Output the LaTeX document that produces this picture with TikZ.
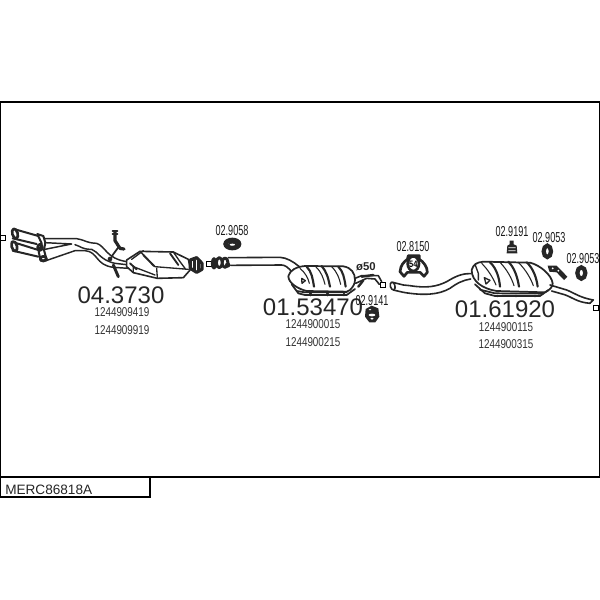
\documentclass[tikz,border=0pt]{standalone}
\usepackage{fontspec}
\setmainfont{Liberation Sans}
\tikzset{
 big/.style={font=\fontsize{18}{20}\selectfont,text=black!85,inner sep=0pt},
 part/.style={font=\fontsize{9.6}{11}\selectfont,text=black!80,xscale=.77,inner sep=0pt},
 small/.style={font=\fontsize{10.8}{12}\selectfont,text=black!90,xscale=.63,inner sep=0pt},
 ln/.style={line width=1pt,black!85,line join=round,line cap=round},
 th/.style={line width=1.5pt,black!85,line join=round,line cap=round},
 sq/.style={draw=black,line width=.7pt,fill=white,minimum size=3.6pt,inner sep=0pt},
}
\begin{document}
\begin{tikzpicture}[x=.75pt,y=-.75pt]
\useasboundingbox (0,0) rectangle (600,600);
\fill[white] (0,0) rectangle (600,600);
\draw[line width=.9pt] (0,102) -- (599.5,102) -- (599.5,477) -- (0,477) -- cycle;
\draw[line width=.9pt] (0.4,102) -- (0.4,497);
\draw[line width=.9pt] (0,477.5) rectangle (150,497);
\node[font=\fontsize{10.2}{12}\selectfont,anchor=west,inner sep=0pt,text=black!85] (code) at (5,490) {MERC86818A};
% small squares
\node[sq] (s1) at (3,238) {};
\node[sq] (s2) at (209,264) {};
\node[sq] (s3) at (383,285) {};
\node[sq] (s4) at (596,308) {};
% ---- region 1
\begin{scope}[shift={(0,210)},scale=1/3]
 \draw[th] (45,58) -- (115,78) (35,95) -- (115,120);
 \draw[th] (38,85) -- (110,102) (38,122) -- (115,140);
 \draw[th,line width=2pt,fill=white,rotate around={15:(45,71)}] (45,71) ellipse (8 and 15);
 \draw[th,line width=2pt,fill=white,rotate around={15:(43,109)}] (43,109) ellipse (8 and 15);
 \draw[th,fill=white] (112,72) -- (130,78) -- (136,98) -- (132,120) -- (140,150) -- (122,152) -- (116,125) -- (125,100) -- (118,85) -- cycle;
 \draw[ln,line width=2pt] (120,112) ellipse (7 and 9) (130,146) ellipse (9 and 7);
 \draw[ln,line width=1.1pt] (135,86) -- (230,86) .. controls (262,92) and (255,98) .. (290,100) .. controls (318,110) and (318,145) .. (380,155);
 \draw[ln,line width=1.1pt] (135,98) -- (215,102) -- (135,118);
 \draw[ln,line width=1.1pt] (138,152) -- (225,122) -- (255,122) .. controls (295,125) and (285,165) .. (340,172) -- (385,175);
 \draw[ln,line width=1.1pt] (225,104) .. controls (245,110) and (245,118) .. (275,118) .. controls (295,125) and (300,150) .. (345,160) -- (380,164);
 % bracket
 \draw[th,line width=2.4pt] (345,65) -- (345,92) -- (360,115) -- (372,117);
 \draw[ln,line width=1.4pt] (338,62) -- (352,62) (338,72) -- (352,72);
 \draw[ln,line width=1.3pt] (355,112) -- (338,135) -- (330,150);
 \fill[black!85] (330,147) circle (7);
 \draw[th,line width=2.2pt] (340,165) -- (355,200);
 % catalyst
 \draw[ln,fill=white,line width=1.2pt] (380,150) -- (420,124) -- (520,126) -- (565,148) -- (572,178) -- (550,203) -- (472,205) -- (400,188) -- (380,170) -- cycle;
 \draw[ln] (395,148) -- (430,122) (420,124) -- (465,170) -- (565,178) (520,126) -- (540,155) -- (555,175) (470,175) -- (472,203) (400,188) -- (400,170) -- (465,195);
 \draw[ln,line width=1.4pt] (430,135) -- (462,168) (510,130) -- (535,165) (390,160) -- (410,178);
 % clamp
 \draw[th,line width=2.4pt,fill=white] (571,150) -- (590,143) -- (606,160) -- (606,178) -- (590,187) -- (571,175) -- cycle;
 \draw[th,line width=2.2pt] (583,150) -- (583,182) (595,152) -- (595,184);
\end{scope}
% ---- region 2
\begin{scope}[shift={(190,215)},scale=1/3]
 \draw[line width=3.5pt,black!85,fill=white] (127,87) ellipse (20 and 12);
 \fill[black!85] (110,92) -- (145,92) -- (135,80) -- (120,80) -- cycle;
 \fill[white] (127,89) ellipse (8 and 3);
 % ring
 \draw[th,line width=2.2pt] (72,145) ellipse (5 and 14) (88,143) ellipse (9 and 15) (105,143) ellipse (9 and 14);
 \fill[black!85] (113,150) circle (8);
 % pipe
 \draw[ln,line width=1.2pt] (115,128) -- (270,127) .. controls (290,128) and (310,140) .. (328,155);
 \draw[ln,line width=1.2pt] (122,151) -- (275,150) .. controls (285,150) and (295,158) .. (305,170);
 % muffler
 \draw[ln,line width=1.3pt,fill=white] (295,183) .. controls (300,165) and (320,155) .. (345,153) -- (460,154) .. controls (485,158) and (495,175) .. (495,195) .. controls (495,205) and (490,215) .. (480,225) -- (470,230) -- (350,228) .. controls (325,222) and (295,205) .. (295,183) -- cycle;
 \draw[ln,line width=1.3pt] (305,208) -- (325,235) -- (345,240) -- (470,240) -- (495,222);
 \draw[ln,line width=1.3pt] (320,228) -- (345,232) -- (470,232);
 \draw[th,line width=2pt] (362,240) -- (362,236) (412,240) -- (412,236) (462,240) -- (462,236);
 \draw[th,line width=1.6pt] (350,155) .. controls (365,170) and (368,190) .. (372,215);
 \draw[th,line width=1.6pt] (395,153) .. controls (410,170) and (415,190) .. (420,215);
 \draw[th,line width=1.6pt] (445,155) .. controls (460,170) and (463,190) .. (467,215);
 \draw[ln,line width=.8pt] (330,160) .. controls (345,172) and (355,190) .. (358,205);
 \draw[ln,line width=.8pt] (378,156) .. controls (395,172) and (400,190) .. (405,208);
 \draw[ln,line width=.8pt] (425,155) .. controls (442,172) and (448,190) .. (452,208);
 \draw[ln] (335,190) -- (346,197) -- (336,205) -- cycle;
 % tail
 \draw[ln,line width=1.2pt] (495,190) -- (515,182) -- (565,182) -- (575,200);
 \draw[ln,line width=1.2pt] (497,205) -- (530,190) -- (555,192) -- (568,208);
 \draw[th,line width=1.8pt] (505,215) -- (520,196) (515,185) -- (550,180);
 % clamp 02.9141
 \fill[black!85] (545,272) -- (565,280) -- (568,305) -- (556,322) -- (538,322) -- (525,305) -- (527,282) -- cycle;
 \fill[white] (546,300) ellipse (10 and 4) (546,311) ellipse (5 and 3) (540,284) ellipse (4 and 2);
\end{scope}
% ---- region 3
\begin{scope}[shift={(380,215)},scale=1/3]
 % pipe
 \draw[ln,line width=1.2pt,fill=white,rotate around={15:(38,213)}] (38,213) ellipse (7 and 12);
 \draw[ln,line width=1.2pt] (38,202) -- (70,210) -- (90,212) .. controls (140,220) and (170,215) .. (200,200) .. controls (225,185) and (245,175) .. (272,176);
 \draw[ln,line width=1.2pt] (40,225) -- (70,232) .. controls (130,242) and (175,240) .. (210,220) .. controls (230,205) and (250,195) .. (272,192);
 % muffler
 \draw[ln,line width=1.3pt,fill=white] (275,165) .. controls (280,148) and (290,142) .. (310,140) -- (450,143) .. controls (480,150) and (515,180) .. (518,205) .. controls (518,215) and (510,225) .. (495,232) -- (350,228) .. controls (310,222) and (275,200) .. (275,165) -- cycle;
 \draw[ln,line width=1.3pt] (285,208) -- (315,235) -- (345,243) -- (480,243) -- (505,225);
 \draw[ln,line width=1.3pt] (300,224) -- (345,235) -- (490,236);
 \fill[black!85] (352,243) circle (4) (408,243) circle (4) (465,243) circle (4);
 \draw[th,line width=1.6pt] (330,142) .. controls (350,160) and (358,190) .. (360,215);
 \draw[th,line width=1.6pt] (385,140) .. controls (405,160) and (413,190) .. (417,215);
 \draw[th,line width=1.6pt] (440,142) .. controls (460,160) and (470,190) .. (473,215);
 \draw[ln,line width=.8pt] (305,145) .. controls (325,165) and (340,190) .. (348,210);
 \draw[ln,line width=.8pt] (360,142) .. controls (382,165) and (395,190) .. (402,212);
 \draw[ln,line width=.8pt] (415,142) .. controls (438,165) and (452,190) .. (460,212);
 \draw[ln] (313,188) -- (330,196) -- (318,207) -- cycle;
 \draw[ln] (285,148) -- (295,175) -- (295,195);
 % bracket
 \fill[black!85] (503,152) -- (530,152) -- (562,185) -- (552,195) -- (530,172) -- (508,170) -- cycle;
 \fill[white] (518,160) circle (3) (535,167) circle (3);
 % tail pipe
 \draw[ln,line width=1.2pt] (510,210) -- (560,225) .. controls (585,235) and (600,248) .. (640,255) -- (630,265);
 \draw[ln,line width=1.2pt] (515,228) -- (550,238) .. controls (575,245) and (590,262) .. (630,265);
 % 02.8150
 \draw[th,line width=2pt,fill=white] (60,170) .. controls (62,150) and (72,140) .. (82,133) -- (85,122) -- (118,122) -- (118,133) .. controls (130,140) and (142,155) .. (142,172) -- (132,184) -- (120,172) -- (82,172) -- (72,184) -- cycle;
 \draw[line width=2pt,black!85,fill=white] (100,146) ellipse (17 and 22);
 \node[font=\bfseries\fontsize{7}{8}\selectfont,xscale=.8,inner sep=0pt] (r54) at (100,147) {54};
 % 02.9191
 \fill[black!85] (389,77) -- (401,77) -- (401,88) -- (410,92) -- (412,115) -- (380,115) -- (382,92) -- (389,88) -- cycle;
 \fill[white] (385,97) rectangle (407,99.5) (385,106) rectangle (407,108.5);
 % 02.9053 rings
 \draw[line width=3.2pt,black!85,fill=white] (502,109) ellipse (11 and 17);
 \draw[line width=3.2pt,black!85,fill=white] (604,174) ellipse (12 and 17);
\end{scope}
% labels
\node[big] (n1) at (121,295) {04.3730};
\node[part] (p1) at (122,312) {1244909419};
\node[part] (p2) at (122,330) {1244909919};
\node[small] (l1) at (232,231) {02.9058};
\node[big] (n2) at (313,307) {01.53470};
\node[part] (p3) at (313,324) {1244900015};
\node[part] (p4) at (313,342) {1244900215};
\node[small] (l2) at (372,301) {02.9141};
\node[font=\bfseries\fontsize{8.5}{10}\selectfont,inner sep=0pt,text=black!85] (d) at (366,267) {\char"00F8 50};
\node[small] (l3) at (413,247) {02.8150};
\node[small] (l4) at (512,232) {02.9191};
\node[small] (l5) at (549,238) {02.9053};
\node[small] (l6) at (583,259) {02.9053};
\node[big] (n3) at (505,309) {01.61920};
\node[part] (p5) at (506,327) {1244900115};
\node[part] (p6) at (506,344) {1244900315};
\end{tikzpicture}
\end{document}
